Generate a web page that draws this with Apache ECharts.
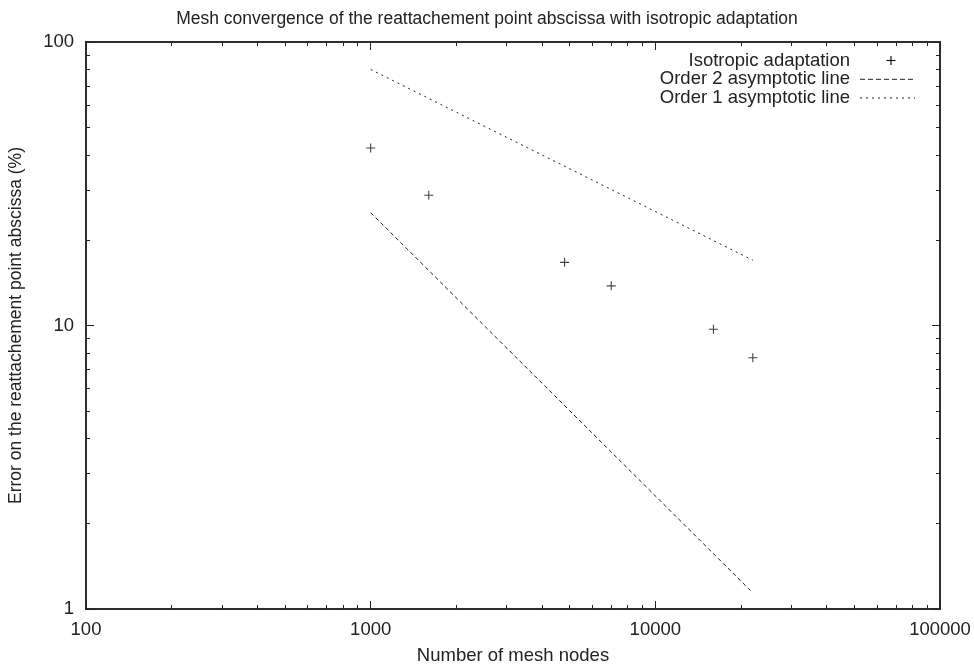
<!DOCTYPE html>
<html>
<head>
<meta charset="utf-8">
<script src="https://cdn.jsdelivr.net/npm/echarts@6/dist/echarts.min.js"></script>
<style>html,body{margin:0;padding:0;background:#fff}#c{width:974px;height:667px}</style>
</head>
<body>
<div id="c"></div>
<script>
// ---- data ----
const xMajorTicks = [100, 1000, 10000, 100000];
const xMinorTicks = [200,300,400,500,600,700,800,900,2000,3000,4000,5000,6000,7000,8000,9000,20000,30000,40000,50000,60000,70000,80000,90000];
const yMajorTicks = [1, 10, 100];
const yMinorTicks = [2,3,4,5,6,7,8,9,20,30,40,50,60,70,80,90];
const nodes = [1000, 1600, 4800, 7000, 16000, 22000];
const errors = [42.3, 28.8, 16.7, 13.8, 9.7, 7.7];
const order2X = [1000, 22000];
const order2Y = [25, 1.14];
const order1X = [1000, 22000];
const order1Y = [80, 17];
const seriesNames = ['Isotropic adaptation', 'Order 2 asymptotic line', 'Order 1 asymptotic line'];

const FONT = "'Liberation Sans', Arial, Helvetica, sans-serif";
const INK = '#222';
const FS = 18.5;
const gridRect = { left: 86, right: 34, top: 42, bottom: 58, outerBoundsMode: 'none', containLabel: false };

function zip(a, b) { return a.map((v, i) => [v, b[i]]); }
const fmt = v => String(Math.round(v));

function xAx(grid, pos, ticks, len, labels, extra) {
  return Object.assign({
    type: 'log', logBase: 10, gridIndex: grid, position: pos, min: 100, max: 100000,
    axisLine: { show: true, onZero: false, lineStyle: { color: INK, width: 1.5 } },
    axisTick: { show: true, inside: true, length: len, customValues: ticks, lineStyle: { color: INK, width: 1 } },
    axisLabel: { show: labels, customValues: ticks, formatter: fmt, color: INK, fontSize: FS, fontFamily: FONT, margin: 11 },
    splitLine: { show: false }, minorTick: { show: false }
  }, extra || {});
}
function yAx(grid, pos, ticks, len, labels, extra) {
  return Object.assign({
    type: 'log', logBase: 10, gridIndex: grid, position: pos, min: 1, max: 100,
    axisLine: { show: true, onZero: false, lineStyle: { color: INK, width: 1.5 } },
    axisTick: { show: true, inside: true, length: len, customValues: ticks, lineStyle: { color: INK, width: 1 } },
    axisLabel: { show: labels, customValues: ticks, formatter: fmt, color: INK, fontSize: FS, fontFamily: FONT, margin: 12 },
    splitLine: { show: false }, minorTick: { show: false }
  }, extra || {});
}

const plusPath = 'path://M4.4,0H5.6V4.4H10V5.6H5.6V10H4.4V5.6H0V4.4H4.4Z';

const legX = 850, legY = [60.5, 79.3, 98], sx0 = 860, sx1 = 915;

const option = {
  animation: false,
  backgroundColor: '#fff',
  title: {
    text: 'Mesh convergence of the reattachement point abscissa with isotropic adaptation',
    left: 'center', top: 5,
    textStyle: { color: INK, fontSize: 17.5, fontWeight: 'normal', fontFamily: FONT }
  },
  grid: [Object.assign({}, gridRect), Object.assign({}, gridRect)],
  xAxis: [
    xAx(0, 'bottom', xMajorTicks, 8, true, {
      name: 'Number of mesh nodes', nameLocation: 'middle', nameGap: 37,
      nameTextStyle: { color: INK, fontSize: FS, fontFamily: FONT }
    }),
    xAx(0, 'top', xMajorTicks, 8, false),
    xAx(1, 'bottom', xMinorTicks, 4, false),
    xAx(1, 'top', xMinorTicks, 4, false)
  ],
  yAxis: [
    yAx(0, 'left', yMajorTicks, 8, true, {
      name: 'Error on the reattachement point abscissa (%)', nameLocation: 'middle', nameGap: 61,
      nameTextStyle: { color: INK, fontSize: 17.5, fontFamily: FONT }
    }),
    yAx(0, 'right', yMajorTicks, 8, false),
    yAx(1, 'left', yMinorTicks, 4, false),
    yAx(1, 'right', yMinorTicks, 4, false)
  ],
  series: [
    {
      name: seriesNames[0], type: 'scatter', xAxisIndex: 0, yAxisIndex: 0,
      data: zip(nodes, errors), symbol: plusPath, symbolSize: 9,
      itemStyle: { color: '#111' }
    },
    {
      name: seriesNames[1], type: 'line', xAxisIndex: 0, yAxisIndex: 0,
      data: zip(order2X, order2Y), showSymbol: false, symbol: 'none',
      lineStyle: { color: INK, width: 1, type: [4, 3] }
    },
    {
      name: seriesNames[2], type: 'line', xAxisIndex: 0, yAxisIndex: 0,
      data: zip(order1X, order1Y), showSymbol: false, symbol: 'none',
      lineStyle: { color: INK, width: 1, type: [2, 4] }
    }
  ],
  graphic: [
    ...seriesNames.map((n, i) => ({
      type: 'text', x: legX, y: legY[i],
      style: { text: n, textAlign: 'right', textVerticalAlign: 'middle', fill: INK, font: FS + 'px ' + FONT }
    })),
    { type: 'line', shape: { x1: 886.5, y1: legY[0], x2: 895.5, y2: legY[0] }, style: { stroke: '#111', lineWidth: 1.2 } },
    { type: 'line', shape: { x1: 891, y1: legY[0] - 4.5, x2: 891, y2: legY[0] + 4.5 }, style: { stroke: '#111', lineWidth: 1.2 } },
    { type: 'line', shape: { x1: sx0, y1: legY[1], x2: sx1, y2: legY[1] }, style: { stroke: INK, lineWidth: 1, lineDash: [5, 3] } },
    { type: 'line', shape: { x1: sx0, y1: legY[2], x2: sx1, y2: legY[2] }, style: { stroke: INK, lineWidth: 1, lineDash: [2, 4] } }
  ]
};

const chart = echarts.init(document.getElementById('c'), null, { renderer: 'canvas' });
chart.setOption(option);
</script>
</body>
</html>
